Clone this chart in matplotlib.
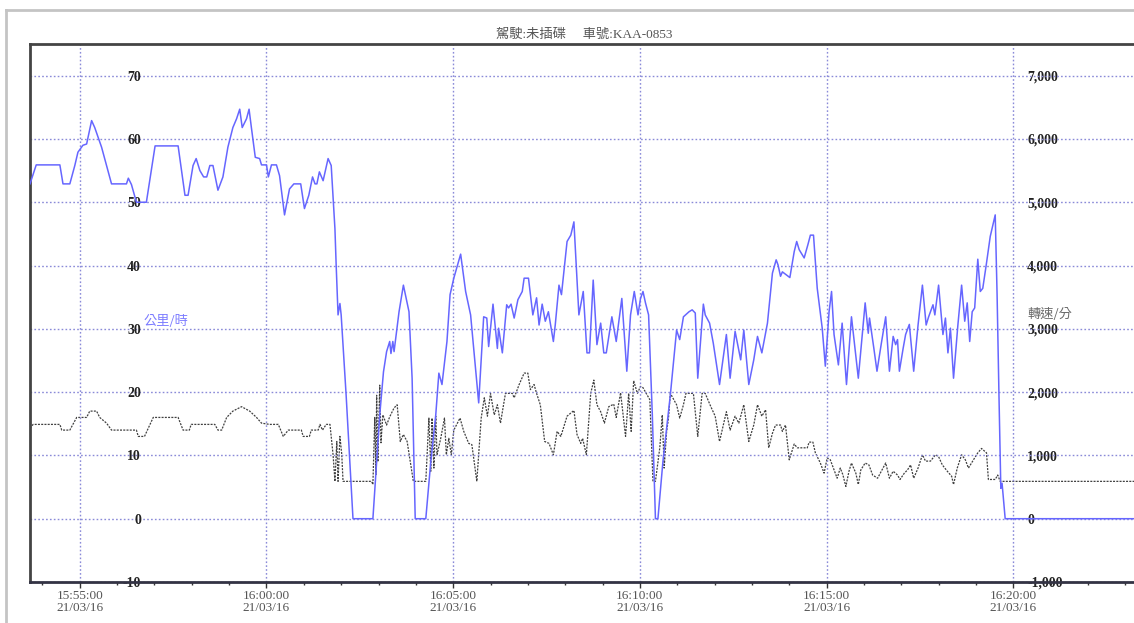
import matplotlib
matplotlib.use("Agg")
import matplotlib.pyplot as plt
import matplotlib.dates as mdates
from matplotlib.ticker import FuncFormatter, MultipleLocator
from matplotlib.lines import Line2D
import pandas as pd

# ---------------- data ----------------
base_time = "2021-03-16 15:55:00"
title_text = "駕駛:未插碟     車號:KAA-0853"
speed_label = "公里/時"
rpm_label = "轉速/分"

# seconds relative to 15:55:00, speed in km/h
speed_sec = [-80, -70, -32, -27, -16, -8, -3, 5, 11, 19, 24, 35, 48, 51, 75, 78, 83, 91, 107, 121,
             158, 169, 174, 179, 182, 187, 193, 199, 204, 209, 214, 222, 230, 238, 246, 252, 257, 261, 268, 272,
             276, 282, 289, 292, 300, 303, 308, 316, 321, 329, 337, 344, 355, 361, 368, 374, 378, 381, 385, 391,
             399, 404, 410, 412, 415, 418, 420, 428, 439, 471, 482, 488, 493, 498, 500, 503, 505, 513, 520, 529,
             534, 539, 556, 564, 572, 577, 582, 590, 595, 601, 612, 620, 628, 641, 649, 654, 657, 664, 671, 673,
             679, 686, 689, 693, 698, 704, 711, 714, 721, 728, 734, 738, 743, 748, 753, 761, 764, 770, 774, 783,
             789, 794, 802, 809, 815, 819, 825, 831, 837, 842, 846, 855, 862, 871, 879, 885, 891, 897, 901, 905,
             909, 914, 920, 925, 929, 937, 949, 959, 964, 970, 979, 984, 989, 993, 1002, 1005, 1012, 1018, 1028, 1039,
             1045, 1053, 1062, 1067, 1075, 1083, 1089, 1096, 1105, 1113, 1119, 1122, 1126, 1129, 1141, 1148, 1152, 1156, 1164, 1170,
             1174, 1179, 1185, 1193, 1198, 1204, 1208, 1212, 1219, 1225, 1232, 1240, 1251, 1262, 1267, 1269, 1276, 1281, 1288, 1295,
             1301, 1307, 1311, 1314, 1317, 1323, 1327, 1333, 1340, 1347, 1354, 1360, 1364, 1371, 1374, 1380, 1387, 1391, 1395, 1399,
             1404, 1411, 1417, 1422, 1426, 1430, 1434, 1438, 1443, 1447, 1451, 1457, 1463, 1471, 1474, 1477, 1480, 1482, 1487, 1694]
speed_kmh = [52.9, 55.9, 55.9, 52.9, 52.9, 55.8, 57.9, 59, 59.2, 62.9, 61.8, 58.7, 54, 52.9, 52.9, 53.8, 52.8, 50, 50, 58.9,
             58.9, 51.1, 51.1, 54, 55.8, 56.9, 55, 54, 54, 55.8, 55.8, 51.9, 54, 58.7, 61.8, 63.2, 64.7, 61.8, 63.2, 64.7,
             61.6, 57.1, 56.9, 55.9, 55.9, 54, 55.9, 55.9, 54.2, 48, 52.1, 52.9, 52.9, 49, 51.1, 54, 52.9, 52.9, 54.8, 53.4,
             56.9, 55.8, 45.8, 40, 32.2, 34, 32.2, 19.5, 0, 0, 16.4, 23.2, 26.4, 28, 26.1, 28, 26.4, 32.7, 36.9, 32.7,
             22.2, 0, 0, 9, 16.4, 23, 21.2, 28, 35.4, 38, 41.8, 35.9, 32.2, 18.3, 31.9, 31.7, 27.2, 33.9, 26.9, 30.1,
             26.2, 33.8, 33.3, 33.9, 31.7, 34.6, 35.9, 38, 38, 32.2, 34.9, 30.6, 33.9, 31.2, 32.7, 28, 30.6, 36.9, 35.4, 43.8,
             44.8, 46.9, 32.2, 35.9, 26.2, 26.2, 37.7, 27.5, 30.9, 26.2, 26.2, 31.9, 28, 34.8, 23.3, 32.2, 35.9, 32.2, 34.8, 35.9,
             34.1, 32.2, 16.4, 0, 0, 9, 19.6, 29.8, 28.3, 31.9, 32.7, 33, 32.5, 22.2, 33.9, 32.2, 30.9, 27.7, 21.2, 29.1,
             22.2, 29.6, 25.1, 29.8, 21.2, 25.1, 28.8, 26.2, 30.9, 38.8, 40.9, 40.1, 38.3, 39, 38.1, 42.2, 43.8, 42.5, 41.2, 43.3,
             44.8, 44.8, 36.4, 30.1, 24.1, 32.7, 35.9, 29.1, 24.3, 30.9, 21.2, 31.9, 22.2, 34.1, 29.3, 31.7, 26.9, 23.3, 27.7, 31.9,
             23.3, 28.8, 27.5, 28.3, 23.3, 26.9, 29.1, 30.7, 23.3, 30.6, 36.9, 30.6, 31.9, 33.8, 32.2, 36.9, 29.1, 31.7, 26.2, 30.1,
             22.2, 30.6, 36.9, 31.2, 34.1, 28, 32.7, 33.3, 41, 35.9, 36.4, 40.4, 44.6, 48, 35.4, 19.6, 4.8, 5.6, 0, 0]

# seconds relative to 15:55:00, engine speed in rpm
rpm_sec = [-80, -75, -32, -29, -16, -11, -5, 11, 16, 27, 32, 43, 51, 91, 94, 104, 118, 158, 166, 176,
           179, 217, 222, 228, 236, 246, 260, 273, 284, 292, 305, 319, 327, 335, 356, 359, 369, 372, 383, 386,
           390, 396, 402, 407, 410, 413, 415, 418, 421, 423, 469, 471, 474, 476, 477, 479, 482, 484, 487, 493,
           498, 505, 510, 515, 520, 526, 536, 556, 561, 564, 566, 569, 572, 574, 580, 586, 589, 593, 597, 601,
           611, 617, 625, 630, 638, 645, 650, 655, 660, 666, 671, 676, 684, 695, 698, 706, 714, 720, 724, 730,
           734, 740, 747, 754, 761, 767, 773, 783, 794, 799, 805, 808, 814, 821, 826, 831, 837, 843, 850, 858,
           862, 869, 877, 882, 886, 890, 896, 901, 905, 916, 921, 925, 932, 936, 939, 943, 946, 949, 959, 964,
           970, 974, 986, 993, 1000, 1005, 1014, 1021, 1028, 1039, 1045, 1053, 1059, 1067, 1075, 1083, 1089, 1096, 1102, 1107,
           1113, 1118, 1126, 1129, 1134, 1140, 1148, 1153, 1169, 1172, 1178, 1182, 1190, 1196, 1201, 1206, 1212, 1217, 1222, 1226,
           1231, 1236, 1240, 1247, 1251, 1255, 1262, 1268, 1274, 1282, 1289, 1295, 1301, 1307, 1314, 1318, 1325, 1330, 1335, 1340,
           1347, 1354, 1359, 1367, 1375, 1380, 1386, 1394, 1401, 1404, 1410, 1417, 1423, 1428, 1436, 1443, 1449, 1457, 1460, 1471,
           1475, 1479, 1694]
rpm_val = [1430, 1490, 1490, 1400, 1400, 1490, 1600, 1600, 1700, 1700, 1600, 1510, 1400, 1400, 1300, 1300, 1600, 1600, 1400, 1400,
           1490, 1490, 1400, 1400, 1600, 1700, 1770, 1700, 1600, 1510, 1490, 1490, 1300, 1400, 1400, 1300, 1300, 1400, 1400, 1490,
           1400, 1490, 1490, 1010, 590, 1220, 590, 1300, 1010, 590, 590, 540, 1600, 700, 1950, 900, 2110, 1200, 1640, 1480,
           1610, 1750, 1800, 1220, 1330, 1220, 590, 590, 1590, 750, 1590, 800, 1620, 1010, 1270, 1590, 1010, 1270, 1010, 1400,
           1590, 1380, 1190, 1170, 590, 1590, 1910, 1620, 1980, 1640, 1800, 1510, 1980, 1980, 1910, 2120, 2300, 2300, 2040, 2120,
           1980, 1800, 1220, 1190, 1010, 1380, 1300, 1620, 1710, 1330, 1190, 1270, 1010, 1980, 2190, 1800, 1690, 1510, 1770, 1810,
           1600, 1990, 1300, 1980, 1380, 2180, 1980, 2090, 2070, 1880, 590, 590, 1120, 1640, 800, 1380, 1590, 1980, 1800, 1590,
           1800, 1980, 1980, 1300, 1980, 1980, 1770, 1620, 1220, 1690, 1400, 1620, 1510, 1800, 1220, 1480, 1800, 1620, 1720, 1120,
           1350, 1480, 1480, 1380, 1480, 930, 1180, 1120, 1120, 1210, 1210, 1040, 880, 720, 960, 930, 770, 640, 800, 700,
           510, 750, 880, 720, 540, 770, 880, 850, 690, 640, 770, 880, 640, 750, 690, 620, 720, 770, 850, 640,
           800, 1010, 910, 910, 1010, 980, 850, 750, 670, 540, 800, 1010, 930, 800, 930, 1040, 1110, 1040, 620, 620,
           690, 590, 590]

speed_ticks = [-10, 0, 10, 20, 30, 40, 50, 60, 70]
rpm_ticks = [-1000, 0, 1000, 2000, 3000, 4000, 5000, 6000, 7000]

# ---------------- figure ----------------
W, H = 1134, 623
fig = plt.figure(figsize=(W / 100, H / 100), dpi=100)
fig.patch.set_facecolor("white")

# light gray outer frame
fig.add_artist(Line2D([6 / W, 1.0], [1 - 10 / H, 1 - 10 / H], transform=fig.transFigure, color="#c4c4c4", lw=2))
fig.add_artist(Line2D([6 / W, 6 / W], [0, 1 - 10 / H], transform=fig.transFigure, color="#c4c4c4", lw=2))

ax = fig.add_axes([30 / W, 41 / H, (W - 30) / W, 538 / H])
ax2 = ax.twinx()

base = pd.Timestamp(base_time)
t_speed = base + pd.to_timedelta(speed_sec, unit="s")
t_rpm = base + pd.to_timedelta(rpm_sec, unit="s")

grid_color = "#8a8ad8"
ax.set_ylim(-10, 75)
ax2.set_ylim(-1000, 7500)
ax.set_xlim(base + pd.Timedelta(seconds=-80), base + pd.Timedelta(seconds=1694))

ax2.plot(t_rpm, rpm_val, color="#404040", lw=0.9, linestyle=(0, (1.6, 1.0)), zorder=2)
ax.plot(t_speed, speed_kmh, color="#6666ff", lw=1.1, zorder=3)
ax.set_zorder(ax2.get_zorder() + 1)
ax.patch.set_visible(False)

# grid
ax.set_yticks(speed_ticks)
ax2.set_yticks(rpm_ticks)
ax.grid(True, which="major", color=grid_color, linestyle=(0, (1.2, 1.6)), lw=1.0)
ax.set_axisbelow(True)

# x axis
ax.xaxis.set_major_locator(mdates.MinuteLocator(byminute=range(0, 60, 5)))
ax.xaxis.set_minor_locator(mdates.MinuteLocator())
ax.xaxis.set_major_formatter(mdates.DateFormatter("%H:%M:%S\n%y/%m/%d"))
ax.tick_params(axis="x", which="major", direction="out", length=4, width=1, color="#333333",
               labelsize=9.5, labelcolor="#555555", pad=2)
ax.tick_params(axis="x", which="minor", direction="out", length=2, width=1, color="#333333")
for lab in ax.get_xticklabels():
    lab.set_family("Liberation Serif")
    lab.set_linespacing(1.0)

# y axes: labels drawn inside the plot
ax.yaxis.set_major_formatter(FuncFormatter(lambda v, p: f"{int(v)}"))
ax2.yaxis.set_major_formatter(FuncFormatter(lambda v, p: f"{int(v):,}"))
ax.tick_params(axis="y", length=0, pad=-80, labelsize=10, labelcolor="#222222")
ax2.tick_params(axis="y", length=0, pad=-77, labelsize=10, labelcolor="#222222")
for lab in ax.get_yticklabels() + ax2.get_yticklabels():
    lab.set_family("Liberation Serif")
    lab.set_fontweight("bold")

# spines
for a in (ax, ax2):
    a.spines["right"].set_visible(False)
ax2.spines["top"].set_visible(False)
ax2.spines["left"].set_visible(False)
ax2.spines["bottom"].set_visible(False)
ax.spines["left"].set_color("#444444")
ax.spines["left"].set_linewidth(2)
ax.spines["top"].set_color("#444444")
ax.spines["top"].set_linewidth(2)
ax.spines["bottom"].set_color("#333344")
ax.spines["bottom"].set_linewidth(2)

# axis unit labels
cjk = ["Noto Sans CJK TC", "DejaVu Sans"]
ax.text(0.1025, 31.1, speed_label, transform=ax.get_yaxis_transform(), ha="left", va="center",
        fontsize=9.5, color="#7c7cff", family=cjk)
ax2.text(0.9035, 3230, rpm_label, transform=ax2.get_yaxis_transform(), ha="left", va="center",
         fontsize=9.5, color="#6a6a6a", family=cjk)

# title
fig.text(584 / W, 1 - 35 / H, title_text, ha="center", va="center", fontsize=9.5, color="#555555",
         family=["Liberation Serif", "Noto Sans CJK TC"])

fig.savefig("out.png", dpi=100)
